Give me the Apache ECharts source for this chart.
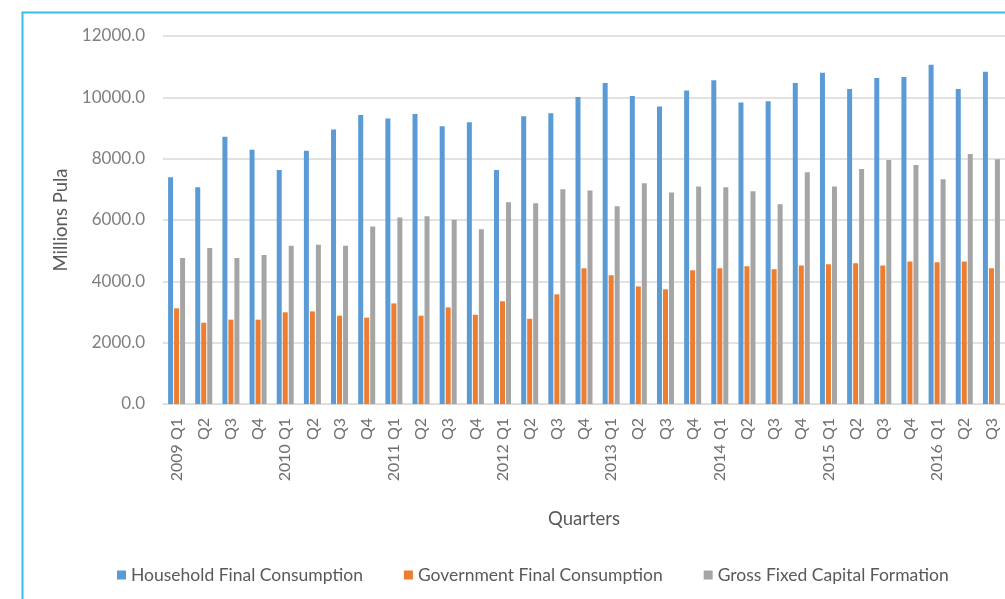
<!DOCTYPE html>
<html>
<head>
<meta charset="utf-8">
<script src="https://cdn.jsdelivr.net/npm/echarts@6/dist/echarts.min.js"></script>
<style>
  html, body { margin: 0; padding: 0; background: #ffffff; }
  #chart { width: 1005px; height: 599px; }
</style>
</head>
<body>
<div id="chart"></div>
<script>
// Quarterly expenditure components, millions of Pula
const quarters = [
  '2009 Q1', 'Q2', 'Q3', 'Q4',
  '2010 Q1', 'Q2', 'Q3', 'Q4',
  '2011 Q1', 'Q2', 'Q3', 'Q4',
  '2012 Q1', 'Q2', 'Q3', 'Q4',
  '2013 Q1', 'Q2', 'Q3', 'Q4',
  '2014 Q1', 'Q2', 'Q3', 'Q4',
  '2015 Q1', 'Q2', 'Q3', 'Q4',
  '2016 Q1', 'Q2', 'Q3'
];

const household = [
  7390, 7070, 8715, 8290,
  7630, 8260, 8955, 9420,
  9310, 9455, 9055, 9185,
  7630, 9380, 9480, 10010,
  10465, 10040, 9705, 10225,
  10560, 9835, 9870, 10465,
  10800, 10270, 10630, 10660,
  11060, 10270, 10835
];

const government = [
  3120, 2650, 2750, 2750,
  2990, 3020, 2880, 2815,
  3280, 2880, 3150, 2910,
  3350, 2780, 3575, 4425,
  4195, 3835, 3740, 4360,
  4425, 4490, 4390, 4520,
  4555, 4590, 4520, 4650,
  4620, 4650, 4425
];

const grossFixed = [
  4760, 5085, 4760, 4855,
  5160, 5195, 5160, 5790,
  6085, 6120, 6010, 5695,
  6575, 6545, 7000, 6965,
  6445, 7195, 6900, 7095,
  7065, 6935, 6510, 7555,
  7095, 7660, 7955, 7790,
  7325, 8150, 7985
];

const yTicks = { min: 0, max: 12000, step: 2000 };

const seriesNames = [
  'Household Final Consumption',
  'Government Final Consumption',
  'Gross Fixed Capital Formation'
];
const colors = ['#5b9bd5', '#ed7d31', '#a5a5a5'];

const FONT = 'Lato, "Open Sans", sans-serif';

const chart = echarts.init(document.getElementById('chart'), null, { renderer: 'canvas' });

function barSeries(name, values, color) {
  return {
    name: name,
    type: 'bar',
    data: values,
    barWidth: 5,
    barGap: '20%',
    itemStyle: { color: color },
    animation: false
  };
}

chart.setOption({
  animation: false,
  color: colors,
  textStyle: { fontFamily: FONT },
  graphic: [{
    type: 'rect',
    shape: { x: 22.5, y: 12.5, width: 1200, height: 800 },
    style: { fill: 'none', stroke: '#3fb8ec', lineWidth: 2 },
    silent: true,
    z: -1
  }],
  grid: {
    left: 163,
    top: 36,
    width: 846,
    bottom: 195,
    containLabel: false
  },
  legend: {
    left: 112,
    top: 561,
    icon: 'rect',
    itemWidth: 9,
    itemHeight: 9,
    itemGap: 41,
    textStyle: { color: '#595959', fontSize: 17.5, fontFamily: FONT },
    data: seriesNames
  },
  xAxis: {
    type: 'category',
    data: quarters,
    name: 'Quarters',
    nameLocation: 'middle',
    nameGap: 106,
    nameTextStyle: { color: '#595959', fontSize: 18.5, fontFamily: FONT },
    axisLine: { lineStyle: { color: '#d9d9d9', width: 1 } },
    axisTick: { show: false },
    axisLabel: {
      interval: 0,
      rotate: 90,
      margin: 14,
      color: '#6f6f6f',
      fontSize: 16,
      fontFamily: FONT
    }
  },
  yAxis: {
    type: 'value',
    min: yTicks.min,
    max: yTicks.max,
    interval: yTicks.step,
    name: 'Millions Pula',
    nameLocation: 'middle',
    nameRotate: 90,
    nameGap: 92,
    nameTextStyle: { color: '#595959', fontSize: 18.5, fontFamily: FONT },
    axisLine: { show: false },
    axisTick: { show: false },
    splitLine: { lineStyle: { color: '#d9d9d9', width: 1.5 } },
    axisLabel: {
      margin: 18,
      color: '#7f7f7f',
      fontSize: 17,
      fontFamily: FONT,
      formatter: function (v) { return v.toFixed(1); }
    }
  },
  series: [
    barSeries(seriesNames[0], household, colors[0]),
    barSeries(seriesNames[1], government, colors[1]),
    barSeries(seriesNames[2], grossFixed, colors[2])
  ]
});
</script>
</body>
</html>
